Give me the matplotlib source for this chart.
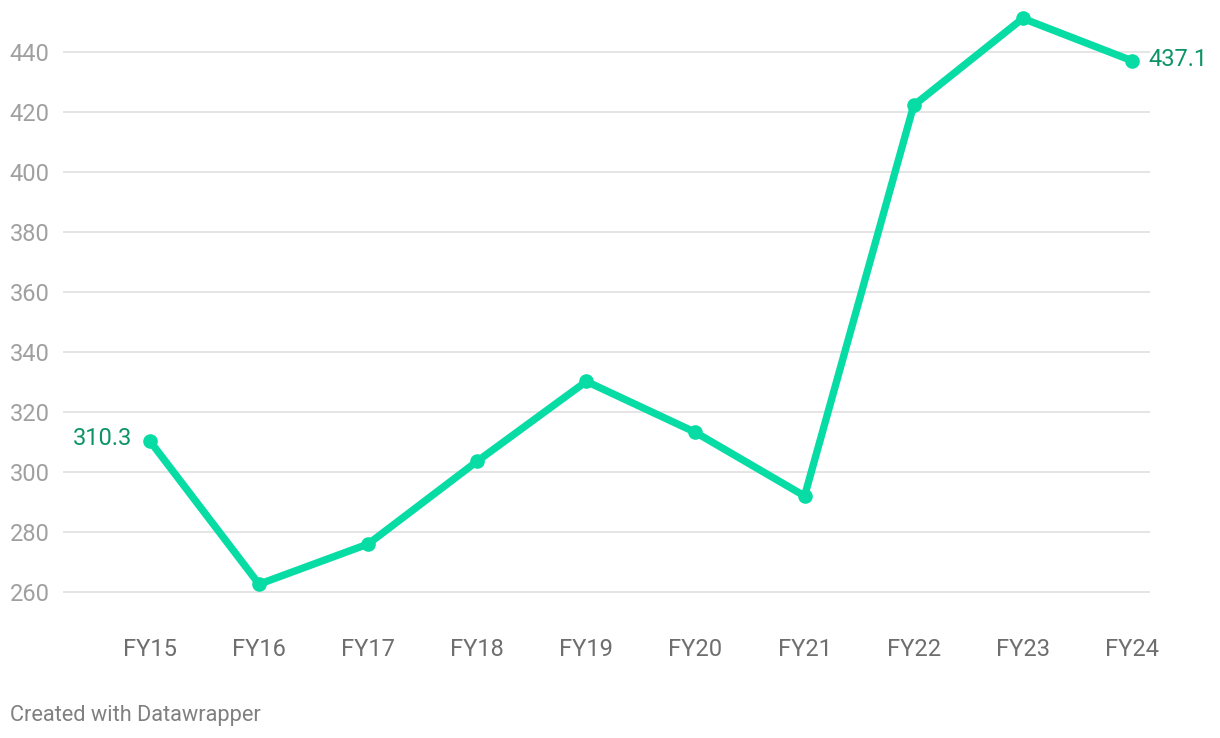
import matplotlib.pyplot as plt

plt.rcParams['font.family'] = ['Roboto', 'DejaVu Sans']

# data
years = ['FY15', 'FY16', 'FY17', 'FY18', 'FY19', 'FY20', 'FY21', 'FY22', 'FY23', 'FY24']
values = [310.3, 262.6, 276.0, 303.6, 330.2, 313.2, 292.0, 422.2, 451.2, 437.1]
yticks = [260, 280, 300, 320, 340, 360, 380, 400, 420, 440]

line_color = '#07dca5'
label_color = '#0c9467'

fig = plt.figure(figsize=(12.2, 7.38), dpi=100)
ax = fig.add_axes([63 / 1220, 128 / 738, (1150 - 63) / 1220, 600 / 738])

x = list(range(len(years)))
ax.plot(x, values, color=line_color, lw=5.3, solid_capstyle='round',
        solid_joinstyle='round', marker='o', markersize=9.5, zorder=3)

ax.set_xlim(-0.797, 9.166)
ax.set_ylim(254, 454)
ax.set_yticks(yticks)
ax.set_xticks(x)
ax.set_xticklabels(years)

ax.grid(axis='y', color='#e3e3e3', lw=1.3)
ax.set_axisbelow(True)
for s in ax.spines.values():
    s.set_visible(False)
ax.tick_params(length=0)
ax.tick_params(axis='y', labelsize=17, labelcolor='#a0a0a0', pad=9.5)
ax.tick_params(axis='x', labelsize=17, labelcolor='#6e6e6e', pad=20)

# end labels
ax.annotate(f'{values[0]:.1f}', (x[0], values[0]), xytext=(-13, 2),
            textcoords='offset points', ha='right', va='center',
            fontsize=17, color=label_color)
ax.annotate(f'{values[-1]:.1f}', (x[-1], values[-1]), xytext=(12, 1),
            textcoords='offset points', ha='left', va='center',
            fontsize=17, color=label_color)

fig.text(10 / 1220, 1 - 715 / 738, 'Created with Datawrapper', fontsize=15.7,
         color='#808080', ha='left', va='center')

fig.savefig('out.png', dpi=100, facecolor='white')
